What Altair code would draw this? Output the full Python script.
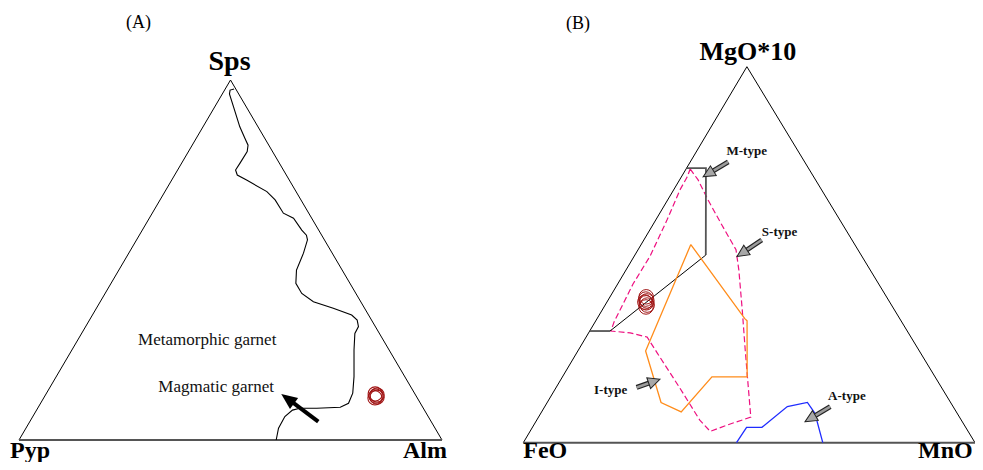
import math
import altair as alt
import pandas as pd

# ---------------- Panel (A): Sps - Pyp - Alm (percent, Pyp = 100 - Sps - Alm) ----------------
curve_sps = [97.5, 97.2, 96.1, 92.6, 87.0, 83.8, 81.9, 80.1, 76.9, 75.0,
             73.6, 72.2, 69.0, 66.7, 63.0, 61.6, 58.3, 56.9, 55.6, 51.9,
             47.2, 43.5, 40.7, 38.4, 36.6, 34.7, 33.3, 31.5, 29.6, 25.0,
             17.6, 13.0, 10.2, 9.1, 8.8, 8.8, 8.3, 6.5, 3.3, 0.0]
curve_alm = [2.1, 1.3, 1.7, 4.4, 8.7, 11.5, 13.2, 13.9, 13.8, 13.7,
             14.8, 17.7, 24.1, 27.2, 31.0, 34.1, 37.7, 39.5, 40.4, 41.3,
             42.0, 43.7, 46.5, 50.4, 56.0, 61.3, 63.3, 64.5, 64.6, 66.7,
             70.4, 72.4, 72.8, 71.4, 66.0, 62.0, 60.5, 59.6, 59.7, 60.8]
garnet_a_sps = [12.8, 12.2, 11.9, 11.7, 12.5]
garnet_a_alm = [77.8, 78.3, 78.7, 78.3, 78.4]
arrow_a_tail = (5.1, 68.2)   # (Sps, Alm)
arrow_a_tip = (12.8, 55.6)
field_text_a = ["Metamorphic garnet", "Magmatic garnet"]
field_sps_a = [27.8, 14.8]
field_alm_a = [30.6, 39.2]

# ---------------- Panel (B): MgO*10 - FeO - MnO (percent, FeO = remainder) ----------------
mtype_mg = [73.0, 73.0, 49.9, 29.7, 29.7]
mtype_mn = [0.0, 4.3, 15.7, 4.5, 0.0]
stype_mg = [72.8, 69.9, 64.6, 57.9, 51.3, 45.9, 35.3, 24.7, 15.3, 6.8,
            4.7, 3.0, 6.0, 14.5, 23.9, 28.1, 29.2, 29.7, 32.1, 42.2,
            49.7, 59.2, 67.2, 70.7, 72.8]
stype_mn = [0.9, 4.1, 8.9, 15.3, 21.7, 25.0, 31.0, 36.9, 42.2, 47.0,
            42.8, 39.9, 36.1, 27.5, 17.8, 13.5, 9.2, 4.7, 4.2, 3.4,
            3.5, 2.5, 1.4, 1.3, 0.9]
itype_mg = [52.7, 33.0, 32.4, 17.5, 17.5, 8.2, 10.7, 24.4, 52.7]
itype_mn = [11.0, 32.7, 33.5, 40.9, 33.1, 30.9, 25.2, 15.0, 11.0]
atype_mg = [0.0, 4.1, 4.1, 9.6, 10.7, 7.8, 0.0]
atype_mn = [47.2, 47.4, 50.8, 53.7, 57.6, 60.7, 66.3]
garnet_b_mg = [38.8, 38.2, 37.7, 37.2, 36.6, 36.1, 37.4]
garnet_b_mn = [8.0, 8.2, 8.7, 8.8, 9.3, 9.3, 8.4]
type_names = ["M-type", "S-type", "I-type", "A-type"]
type_label_mg = [77.7, 56.0, 14.0, 12.4]
type_label_mn = [11.0, 29.0, 12.4, 65.5]
type_tail_mg = [74.7, 53.9, 14.7, 9.6]
type_tail_mn = [8.4, 26.1, 17.8, 63.2]
type_tip_mg = [70.7, 49.5, 16.9, 5.6]
type_tip_mn = [4.8, 22.8, 21.9, 59.6]

FONT = "Liberation Serif"
W, H = 967, 454

# ternary layout of each diagram: chart-pixel positions of the left/right base corners and apex height
PANEL_A = {"x0": 11.0, "x1": 434.0, "y0": 432.0, "y1": 72.0, "k": 0.5}
PANEL_B = {"x0": 515.3, "x1": 967.0, "y0": 434.7, "y1": 58.7, "k": 0.495}

XS = alt.Scale(domain=[0, W], nice=False, zero=False)
YS = alt.Scale(domain=[0, H], nice=False, zero=False, reverse=True)


def project(g, top, right):
    u = [g["x0"] + (r + g["k"] * t) / 100.0 * (g["x1"] - g["x0"]) for t, r in zip(top, right)]
    v = [g["y0"] - t / 100.0 * (g["y0"] - g["y1"]) for t in top]
    return u, v


def xy(xf="u", yf="v"):
    return {"x": alt.X(f"{xf}:Q", scale=XS, axis=None), "y": alt.Y(f"{yf}:Q", scale=YS, axis=None)}


def line_df(g, top, right, grp="g"):
    u, v = project(g, top, right)
    return pd.DataFrame({"u": u, "v": v, "i": list(range(len(u))), "grp": grp})


def line_layer(df, color, width=1.0, dash=None):
    kw = {"color": color, "strokeWidth": width}
    if dash:
        kw["strokeDash"] = dash
    return alt.Chart(df).mark_line(**kw).encode(
        **xy(), order=alt.Order("i:Q"), detail=alt.Detail("grp:N"))


def frame_layers(g):
    sides = line_df(g, [0, 100, 0], [0, 0, 100])
    base = line_df(g, [0, 0], [0, 100])
    return [line_layer(sides, "#000000", 1.0), line_layer(base, "#555555", 2.0)]


def arrow_df(g, tails, tips, head_len):
    rows = []
    for (tt, tr), (pt, pr) in zip(tails, tips):
        (ut,), (vt,) = project(g, [tt], [tr])
        (up,), (vp,) = project(g, [pt], [pr])
        du, dv = up - ut, vp - vt
        L = math.hypot(du, dv)
        f = (head_len / 2.0) / L
        rows.append({"u": ut, "v": vt, "uh": up - du * f, "vh": vp - dv * f,
                     "ang": math.degrees(math.atan2(du, -dv)) % 360})
    return pd.DataFrame(rows)


def vertex_label(g, top, right, text, size, align, dx, dy, bold=True):
    u, v = project(g, [top], [right])
    df = pd.DataFrame({"u": u, "v": v, "t": [text]})
    return alt.Chart(df).mark_text(
        font=FONT, fontSize=size, fontWeight="bold" if bold else "normal",
        align=align, baseline="alphabetic", dx=dx, dy=dy, color="#000000"
    ).encode(**xy(), text="t:N")


layers = []

# ---------------- panel A ----------------
gA = PANEL_A
layers += frame_layers(gA)
layers.append(line_layer(line_df(gA, curve_sps, curve_alm), "#000000", 1.1))
uA, vA = project(gA, garnet_a_sps, garnet_a_alm)
layers.append(alt.Chart(pd.DataFrame({"u": uA, "v": vA})).mark_point(
    shape="circle", filled=False, size=200, strokeWidth=1.1, color="#a01414", opacity=1
).encode(**xy()))
arrA = arrow_df(gA, [arrow_a_tail], [arrow_a_tip], 16)
layers.append(alt.Chart(arrA).mark_rule(color="#000000", strokeWidth=4).encode(
    **xy(), x2="uh:Q", y2="vh:Q"))
layers.append(alt.Chart(arrA).mark_point(
    shape="M0,-1L-0.85,1L0.85,1Z", filled=True, size=256, color="#000000", opacity=1
).encode(**xy("uh", "vh"), angle=alt.Angle("ang:Q", scale=None)))
uF, vF = project(gA, field_sps_a, field_alm_a)
layers.append(alt.Chart(pd.DataFrame({"u": uF, "v": vF, "t": field_text_a})).mark_text(
    font=FONT, fontSize=17, align="center", baseline="middle", color="#111111"
).encode(**xy(), text="t:N"))
layers += [
    vertex_label(gA, 100, 0, "Sps", 28, "center", -1, -10),
    vertex_label(gA, 0, 0, "Pyp", 24, "left", -9, 18),
    vertex_label(gA, 0, 100, "Alm", 24, "right", 5, 18),
    vertex_label(gA, 100, 0, "(A)", 18, "center", -92, -52, bold=False),
]

# ---------------- panel B ----------------
gB = PANEL_B
layers += frame_layers(gB)
m_df = line_df(gB, mtype_mg, mtype_mn)
m_gray = pd.concat([m_df.iloc[0:3].assign(grp="a"), m_df.iloc[3:5].assign(grp="b")])
m_black = m_df.iloc[2:4].assign(grp="c")
layers.append(line_layer(line_df(gB, stype_mg, stype_mn), "#ee1080", 1.2, [6, 3]))
layers.append(line_layer(m_gray, "#555555", 1.8))
layers.append(line_layer(m_black, "#000000", 1.0))
layers.append(line_layer(line_df(gB, itype_mg, itype_mn), "#ff8c1a", 1.3))
layers.append(line_layer(line_df(gB, atype_mg, atype_mn), "#1f2cff", 1.3))
uB, vB = project(gB, garnet_b_mg, garnet_b_mn)
layers.append(alt.Chart(pd.DataFrame({"u": uB, "v": vB})).mark_point(
    shape="circle", filled=False, size=210, strokeWidth=1.0, color="#a01414", opacity=1
).encode(**xy()))
arrB = arrow_df(gB, list(zip(type_tail_mg, type_tail_mn)), list(zip(type_tip_mg, type_tip_mn)), 12)
layers.append(alt.Chart(arrB).mark_rule(color="#222222", strokeWidth=5).encode(
    **xy(), x2="uh:Q", y2="vh:Q"))
layers.append(alt.Chart(arrB).mark_rule(color="#9c9c9c", strokeWidth=2.6).encode(
    **xy(), x2="uh:Q", y2="vh:Q"))
layers.append(alt.Chart(arrB).mark_point(
    shape="M0,-1L-0.95,1L0.95,1Z", filled=True, size=144, fill="#a8a8a8", stroke="#222222",
    strokeWidth=1, opacity=1
).encode(**xy("uh", "vh"), angle=alt.Angle("ang:Q", scale=None)))
uT, vT = project(gB, type_label_mg, type_label_mn)
layers.append(alt.Chart(pd.DataFrame({"u": uT, "v": vT, "t": type_names})).mark_text(
    font=FONT, fontSize=13, fontWeight="bold", align="center", baseline="middle", color="#111111"
).encode(**xy(), text="t:N"))
layers += [
    vertex_label(gB, 100, 0, "MgO*10", 26, "center", 1, -7),
    vertex_label(gB, 0, 0, "FeO", 24, "left", 0, 15),
    vertex_label(gB, 0, 100, "MnO", 24, "left", -57, 15),
    vertex_label(gB, 100, 0, "(B)", 18, "center", -169, -38, bold=False),
]

chart = alt.layer(*layers).properties(
    width=W, height=H, padding=0,
    autosize=alt.AutoSizeParams(type="none"),
).configure_view(stroke=None)

chart.save("out.html", embed_options={"renderer": "svg", "actions": False})
